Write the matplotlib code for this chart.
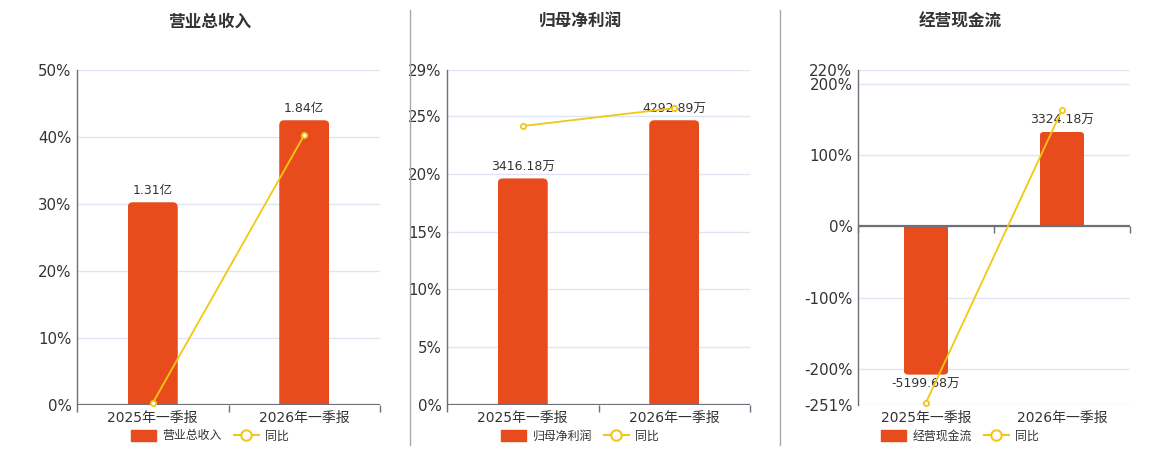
import matplotlib
matplotlib.use("Agg")
import matplotlib.pyplot as plt
from matplotlib.patches import FancyBboxPatch, Patch
from matplotlib.lines import Line2D
from matplotlib.transforms import blended_transform_factory

plt.rcParams['font.family'] = ['DejaVu Sans', 'Noto Sans CJK SC']

# ---------------- data ----------------
categories = ["2025年一季报", "2026年一季报"]

titles = ["营业总收入", "归母净利润", "经营现金流"]
bar_names = ["营业总收入", "归母净利润", "经营现金流"]

revenue = [1.31, 1.84]
revenue_labels = ["1.31亿", "1.84亿"]
revenue_yoy = [0.3, 40.3]

profit = [3416.18, 4292.89]
profit_labels = ["3416.18万", "4292.89万"]
profit_yoy = [24.15, 25.7]

cashflow = [-5199.68, 3324.18]
cashflow_labels = ["-5199.68万", "3324.18万"]
cashflow_yoy = [-247.5, 164.0]

yticks_list = [
    [0, 10, 20, 30, 40, 50],
    [0, 5, 10, 15, 20, 25, 29],
    [-251, -200, -100, 0, 100, 200, 220],
]

# ---------------- style ----------------
BAR_C = "#E84C1D"
LINE_C = "#F2C812"
AXIS_C = "#6E7079"
GRID_C = "#E0E6F1"
TEXT_C = "#333333"

W, H = 1160, 450
fig = plt.figure(figsize=(W / 100, H / 100), dpi=100)

axes_px = [(77, 380), (447, 750), (858, 1130)]
top_px, bot_px = 70, 405
title_x = [210, 580, 960]

datasets = [
    (revenue, revenue_labels, revenue_yoy),
    (profit, profit_labels, profit_yoy),
    (cashflow, cashflow_labels, cashflow_yoy),
]

for i, ((vals, labels, yoy), yt) in enumerate(zip(datasets, yticks_list)):
    l, r = axes_px[i]
    rect = [l / W, 1 - bot_px / H, (r - l) / W, (bot_px - top_px) / H]
    ax = fig.add_axes(rect)           # bar axis (drawn below)
    axl = ax.twinx()                  # percentage axis (line)
    pmin, pmax = yt[0], yt[-1]
    axl.set_ylim(pmin, pmax)

    # bar axis limits with zero aligned to the percentage zero
    if min(vals) < 0:
        lower = min(vals) / 0.83
        upper = -lower * pmax / (-pmin)
    else:
        lower = 0
        upper = max(vals) / 0.85
    ax.set_ylim(lower, upper)
    x = list(range(len(categories)))
    ax.set_xlim(-0.5, len(categories) - 0.5)

    # gridlines below bars
    bt = blended_transform_factory(ax.transAxes, axl.transData)
    ax.hlines(yt, 0, 1, transform=bt, color=GRID_C, lw=1, zorder=0)

    # bars (rounded outer ends, square base)
    width = 0.33
    bars = ax.bar(x, vals, width=width, color=BAR_C, zorder=2, linewidth=0)
    w_px = r - l
    h_px = bot_px - top_px
    xupp = (len(categories)) / w_px
    yupp = (upper - lower) / h_px
    rad = 5
    for b, v in zip(bars, vals):
        bx, by, bw, bh = b.get_x(), b.get_y(), b.get_width(), b.get_height()
        ext = 2 * rad * yupp
        if bh >= 0:
            y0, hh = by - ext, bh + ext
        else:
            y0, hh = by + bh, -bh + ext
        p = FancyBboxPatch((bx, y0), bw, hh,
                           boxstyle=f"round,pad=0,rounding_size={rad * xupp}",
                           mutation_aspect=yupp / xupp,
                           facecolor=BAR_C, edgecolor="none", zorder=2)
        ax.add_patch(p)
        p.set_clip_path(b)
        b.set_visible(False)

    # bar value labels
    for xi, v, lab in zip(x, vals, labels):
        if v >= 0:
            ax.annotate(lab, xy=(xi, v), xytext=(0, 3.5), textcoords="offset points",
                        ha="center", va="bottom", fontsize=9, color=TEXT_C, zorder=5)
        else:
            ax.annotate(lab, xy=(xi, v), xytext=(0, -2), textcoords="offset points",
                        ha="center", va="top", fontsize=9, color=TEXT_C, zorder=5)

    # zero axis line and category ticks
    ax.axhline(0, color=AXIS_C, lw=1.6, zorder=3)
    bounds = [k - 0.5 for k in range(len(categories) + 1)]
    ax.plot(bounds, [0] * len(bounds), ls="none", marker=3, ms=5, mew=1,
            color=AXIS_C, zorder=3, clip_on=False)

    # line on percent axis
    axl.plot(x, yoy, color=LINE_C, lw=1.3, marker="o", ms=3.8,
             mfc="white", mec=LINE_C, mew=1.3, zorder=4, clip_on=False)

    # ticks & spines
    ax.set_yticks([])
    ax.set_xticks(x)
    ax.set_xticklabels(categories, fontsize=10, color=TEXT_C)
    ax.tick_params(axis="x", length=0, pad=4)
    for s in ["top", "right", "bottom"]:
        ax.spines[s].set_visible(False)
        axl.spines[s].set_visible(False)
    ax.spines["left"].set_visible(False)
    axl.spines["left"].set_visible(True)
    axl.spines["left"].set_color(AXIS_C)
    axl.spines["left"].set_linewidth(1)
    axl.yaxis.tick_left()
    axl.set_yticks(yt)
    axl.set_yticklabels([f"{t}%" for t in yt], fontsize=10.8, color=TEXT_C)
    axl.tick_params(axis="y", length=0, pad=4)

    # title
    fig.text(title_x[i] / W, 1 - 22 / H, titles[i], ha="center", va="center",
             fontsize=12, fontweight="bold", color=TEXT_C)

    # legend
    handles = [
        Patch(facecolor=BAR_C, edgecolor=BAR_C, label=bar_names[i]),
        Line2D([0], [0], color=LINE_C, lw=1.5, marker="o", ms=7.5,
               mfc="white", mec=LINE_C, mew=1.5, label="同比"),
    ]
    fig.legend(handles=handles, loc="center",
               bbox_to_anchor=(title_x[i] / W, 1 - 436 / H),
               ncol=2, frameon=False, fontsize=8.6, handlelength=2.1,
               handleheight=1.0, handletextpad=0.5, columnspacing=1.0,
               borderpad=0, labelcolor="#333333")

# separators
for sx in [410, 780]:
    fig.add_artist(Line2D([sx / W, sx / W], [1 - 10 / H, 1 - 445 / H],
                          transform=fig.transFigure, color="#AAAAAA", lw=1))

fig.savefig("out.png", dpi=100)
